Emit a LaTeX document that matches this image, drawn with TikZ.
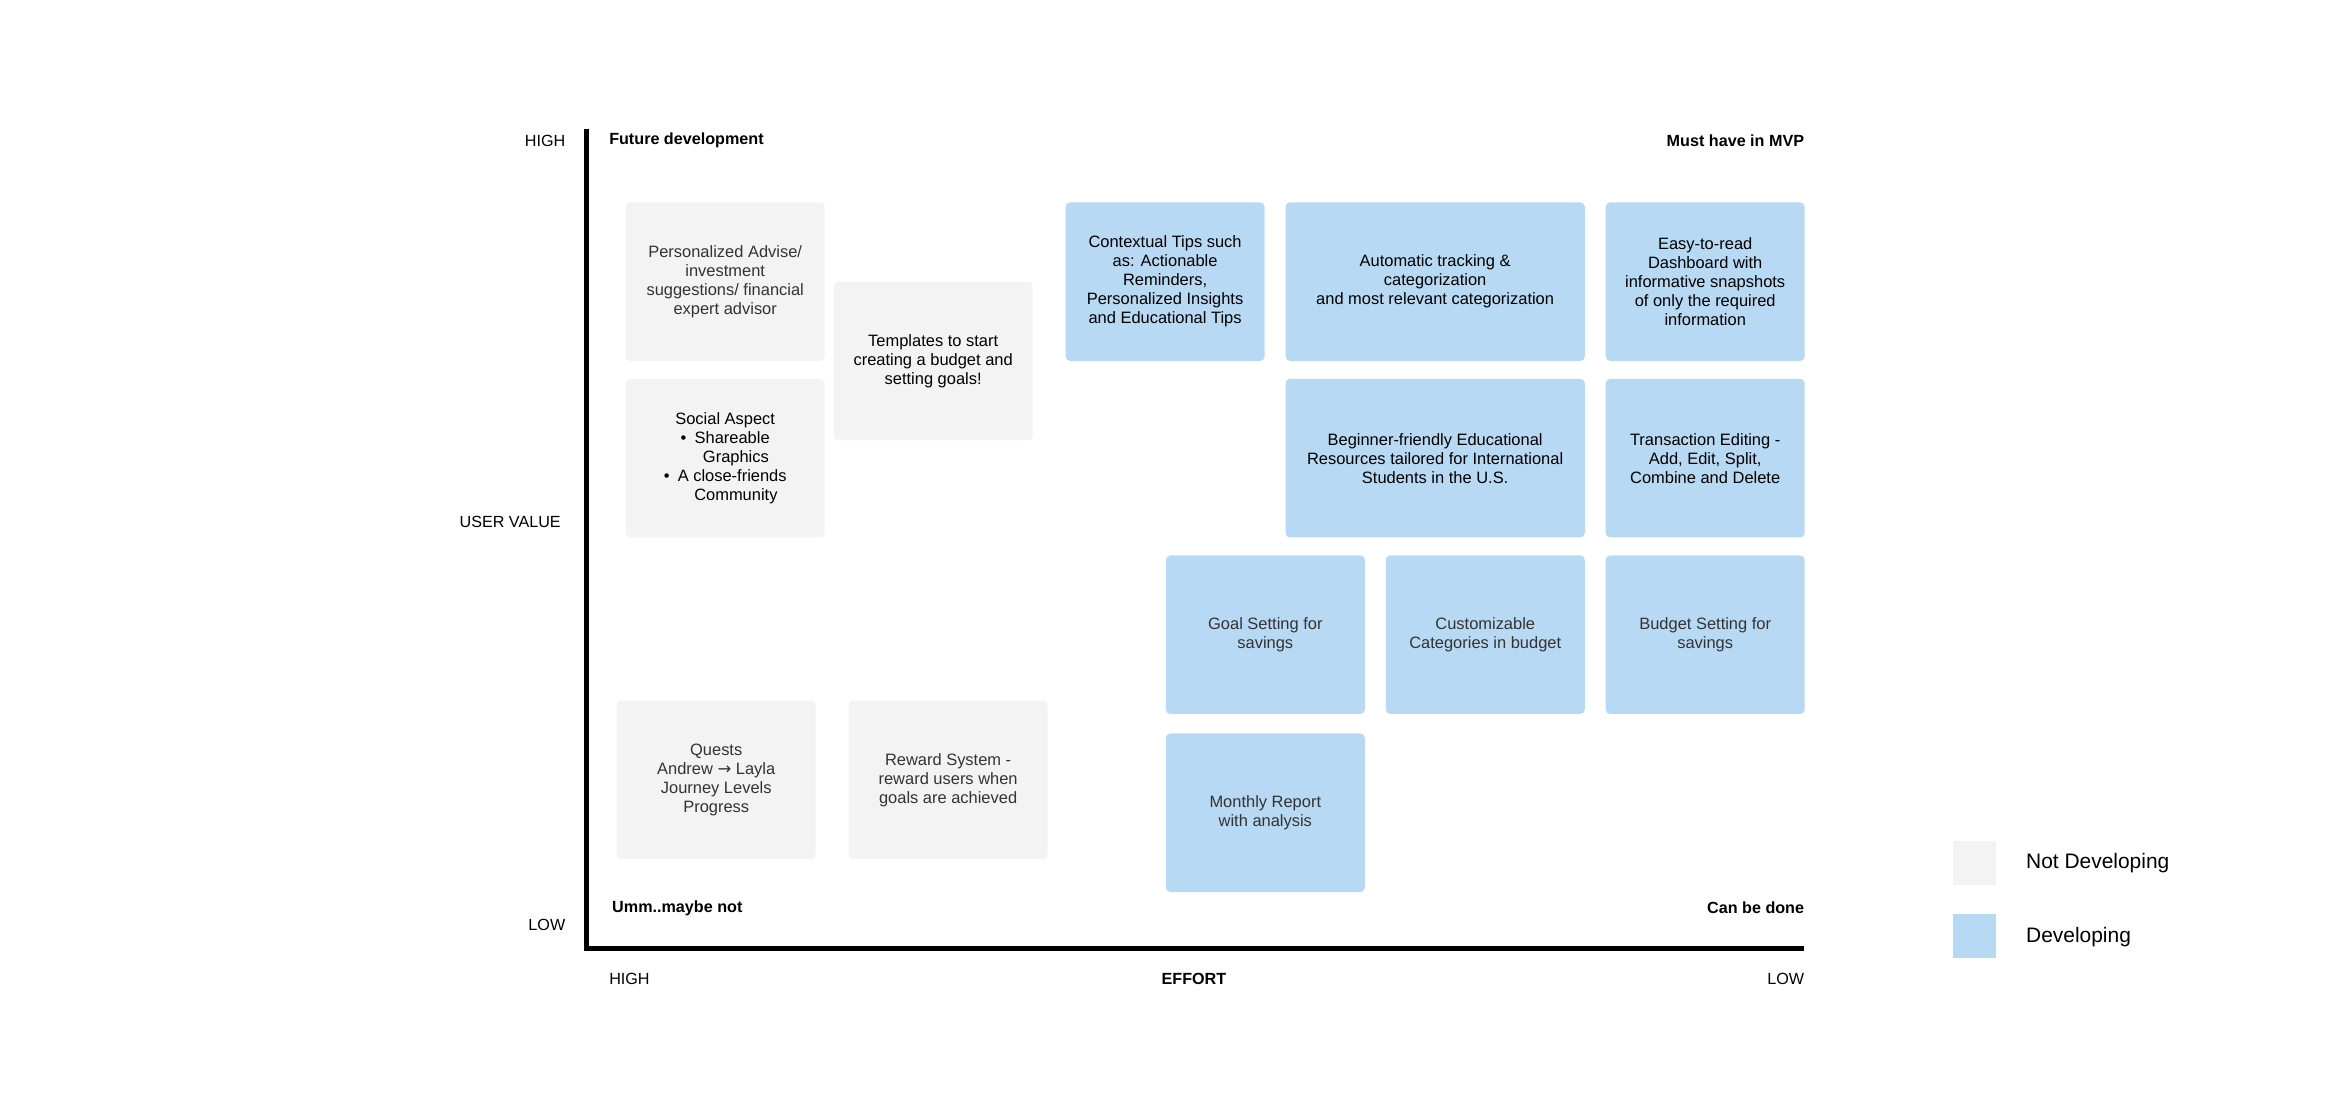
\documentclass[tikz,border=0pt]{standalone}
\usepackage{fontspec}
\setmainfont{Liberation Sans}
\newfontfamily\arrowfont{DejaVu Sans}
\definecolor{devblue}{HTML}{B8D9F3}
\definecolor{nodevgrey}{HTML}{F3F3F3}
\definecolor{softtext}{HTML}{333333}

\begin{document}
\begin{tikzpicture}[x=1pt, y=-1pt,
  card/.style={rounded corners=3pt, anchor=north west, align=center, inner sep=2pt,
    minimum height=106pt, font=\fontsize{11}{12.7}\selectfont},
  small/.style={minimum width=133pt},
  wide/.style={minimum width=200pt},
  dev/.style={card, fill=devblue},
  nodev/.style={card, fill=nodevgrey},
  soft/.style={text=softtext},
  axis/.style={black, line width=3pt},
  axislbl/.style={inner sep=0pt, font=\fontsize{10.8}{12}\selectfont},
  quadlbl/.style={inner sep=0pt, font=\fontsize{10.8}{12}\selectfont\bfseries},
  legendbox/.style={minimum size=29pt, inner sep=0pt, anchor=north west},
  legendlbl/.style={anchor=west, inner sep=0pt, font=\fontsize{14}{16}\selectfont}]

  \useasboundingbox (0,0) rectangle (1568,745);

  % axes: user value (up) against effort (right)
  \draw[axis] (392,86) -- (392,634) -- (1206,634);
  \node[axislbl, anchor=east] (vhigh) at (378,94) {HIGH};
  \node[axislbl, anchor=east] (uservalue) at (375,349) {USER VALUE};
  \node[axislbl, anchor=east] (vlow) at (378,618) {LOW};
  \node[axislbl, anchor=west] (ehigh) at (407,654) {HIGH};
  \node[quadlbl] (effort) at (798,654) {EFFORT};
  \node[axislbl, anchor=east] (elow) at (1206,654) {LOW};

  % quadrant names
  \node[quadlbl, anchor=west] (future) at (407,94) {Future development};
  \node[quadlbl, anchor=east] (mvp) at (1206,94) {Must have in MVP};
  \node[quadlbl, anchor=west] (maybenot) at (409,607) {Umm..maybe not};
  \node[quadlbl, anchor=east] (canbedone) at (1206,607) {Can be done};

  % not developing (grey cards)
  \node[nodev, small, soft] (advise) at (418,135) {Personalized Advise/\\investment\\suggestions/ financial\\expert advisor};
  \node[nodev, small] (social) at (418,253) {Social Aspect\\\textbullet\enspace Shareable\\\hspace{1.3em}Graphics\\\textbullet\enspace A close-friends\\\hspace{1.3em}Community};
  \node[nodev, small] (templates) at (557,188) {Templates to start\\creating a budget and\\setting goals!};
  \node[nodev, small, soft] (quests) at (412,468) {Quests\\Andrew {\arrowfont →} Layla\\Journey Levels\\Progress};
  \node[nodev, small, soft] (reward) at (567,468) {Reward System -\\reward users when\\goals are achieved};

  % developing (blue cards)
  \node[dev, small] (tips) at (712,135) {Contextual Tips such\\as: Actionable\\Reminders,\\Personalized Insights\\and Educational Tips};
  \node[dev, wide] (tracking) at (859,135) {Automatic tracking \&\\categorization\\and most relevant categorization};
  \node[dev, small] (dashboard) at (1073,135) {Easy-to-read\\Dashboard with\\informative snapshots\\of only the required\\information};
  \node[dev, wide] (resources) at (859,253) {Beginner-friendly Educational\\Resources tailored for International\\Students in the U.S.};
  \node[dev, small] (editing) at (1073,253) {Transaction Editing -\\Add, Edit, Split,\\Combine and Delete};
  \node[dev, small, soft] (goals) at (779,371) {Goal Setting for\\savings};
  \node[dev, small, soft] (categories) at (926,371) {Customizable\\Categories in budget};
  \node[dev, small, soft] (budget) at (1073,371) {Budget Setting for\\savings};
  \node[dev, small, soft] (report) at (779,490) {Monthly Report\\with analysis};

  % ---- legend ----
  \node[legendbox, fill=nodevgrey] (keynodev) at (1305,562) {};
  \node[legendlbl] (keynodevlbl) at (1354,577) {Not Developing};
  \node[legendbox, fill=devblue] (keydev) at (1305,611) {};
  \node[legendlbl] (keydevlbl) at (1354,626) {Developing};
\end{tikzpicture}
\end{document}
